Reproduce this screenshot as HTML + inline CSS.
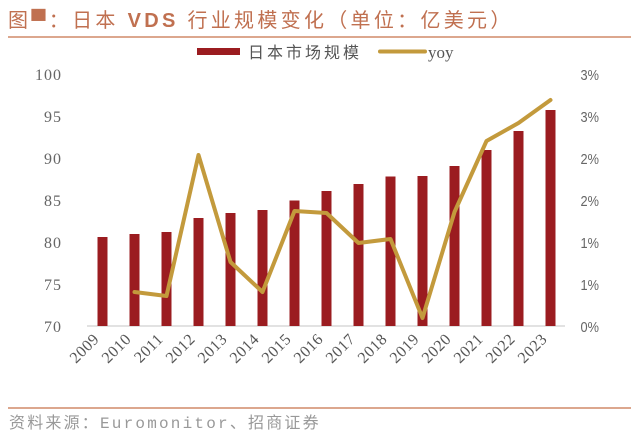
<!DOCTYPE html>
<html><head><meta charset="utf-8"><style>
html,body{margin:0;padding:0;background:#fff;width:640px;height:440px;overflow:hidden}
</style></head><body>
<svg width="640" height="440" viewBox="0 0 640 440" xmlns="http://www.w3.org/2000/svg">
<text x="8" y="27" font-family="Liberation Sans, Noto Sans CJK SC, sans-serif" font-size="20" fill="#c07050" letter-spacing="3.3">图<tspan font-weight="bold">▀</tspan>：日本 <tspan font-weight="bold">VDS</tspan> 行业规模变化（单位：亿美元）</text>
<line x1="8" y1="37" x2="631" y2="37" stroke="#d08a68" stroke-width="1.5"/>
<rect x="197" y="48" width="43" height="7" fill="#9b1c20"/>
<text x="248" y="58" font-family="Liberation Sans, Noto Sans CJK SC, sans-serif" font-size="16" fill="#555" letter-spacing="3">日本市场规模</text>
<line x1="380" y1="51.5" x2="425" y2="51.5" stroke="#c39a3c" stroke-width="4" stroke-linecap="round"/>
<text x="428" y="58" font-family="Liberation Serif, serif" font-size="17" fill="#555">yoy</text>
<g font-family="Liberation Serif, serif" font-size="16" fill="#666" text-anchor="end" letter-spacing="1">
<text x="62" y="80">100</text><text x="62" y="122">95</text><text x="62" y="164">90</text><text x="62" y="206">85</text><text x="62" y="248">80</text><text x="62" y="290">75</text><text x="62" y="332">70</text>
</g>
<g font-family="Liberation Sans, sans-serif" font-size="15" fill="#666" transform="scale(0.85,1)">
<text x="683" y="80">3%</text><text x="683" y="122">3%</text><text x="683" y="164">2%</text><text x="683" y="206">2%</text><text x="683" y="248">1%</text><text x="683" y="290">1%</text><text x="683" y="332">0%</text>
</g>
<line x1="87" y1="326" x2="565" y2="326" stroke="#d8d8d8" stroke-width="1.5"/>
<g fill="#9b1c20">
<rect x="97.5" y="237" width="10" height="89"/>
<rect x="129.5" y="234" width="10" height="92"/>
<rect x="161.5" y="232" width="10" height="94"/>
<rect x="193.5" y="218" width="10" height="108"/>
<rect x="225.5" y="213" width="10" height="113"/>
<rect x="257.5" y="210" width="10" height="116"/>
<rect x="289.5" y="200.5" width="10" height="125.5"/>
<rect x="321.5" y="191" width="10" height="135"/>
<rect x="353.5" y="184" width="10" height="142"/>
<rect x="385.5" y="176.5" width="10" height="149.5"/>
<rect x="417.5" y="176" width="10" height="150"/>
<rect x="449.5" y="166" width="10" height="160"/>
<rect x="481.5" y="150" width="10" height="176"/>
<rect x="513.5" y="131" width="10" height="195"/>
<rect x="545.5" y="110" width="10" height="216"/>
</g>
<polyline points="134.5,292 166.5,296 198.5,155 230.5,262 262.5,292 294.5,211 326.5,213 358.5,243 390.5,239 422.5,318 454.5,212 486.5,141 518.5,123 550.5,100" fill="none" stroke="#c39a3c" stroke-width="4" stroke-linejoin="round" stroke-linecap="round"/>
<g font-family="Liberation Serif, serif" font-size="16" fill="#555" text-anchor="end" letter-spacing="0.5">
<text transform="translate(100,340) rotate(-45)">2009</text>
<text transform="translate(132,340) rotate(-45)">2010</text>
<text transform="translate(164,340) rotate(-45)">2011</text>
<text transform="translate(196,340) rotate(-45)">2012</text>
<text transform="translate(228,340) rotate(-45)">2013</text>
<text transform="translate(260,340) rotate(-45)">2014</text>
<text transform="translate(292,340) rotate(-45)">2015</text>
<text transform="translate(324,340) rotate(-45)">2016</text>
<text transform="translate(356,340) rotate(-45)">2017</text>
<text transform="translate(388,340) rotate(-45)">2018</text>
<text transform="translate(420,340) rotate(-45)">2019</text>
<text transform="translate(452,340) rotate(-45)">2020</text>
<text transform="translate(484,340) rotate(-45)">2021</text>
<text transform="translate(516,340) rotate(-45)">2022</text>
<text transform="translate(548,340) rotate(-45)">2023</text>
</g>
<line x1="8" y1="408" x2="631" y2="408" stroke="#d08a68" stroke-width="1.5"/>
<text x="9" y="428" font-family="Liberation Mono, Noto Sans CJK SC, monospace" font-size="16" fill="#999" letter-spacing="2.2">资料来源：Euromonitor、招商证券</text>
</svg>
</body></html>
